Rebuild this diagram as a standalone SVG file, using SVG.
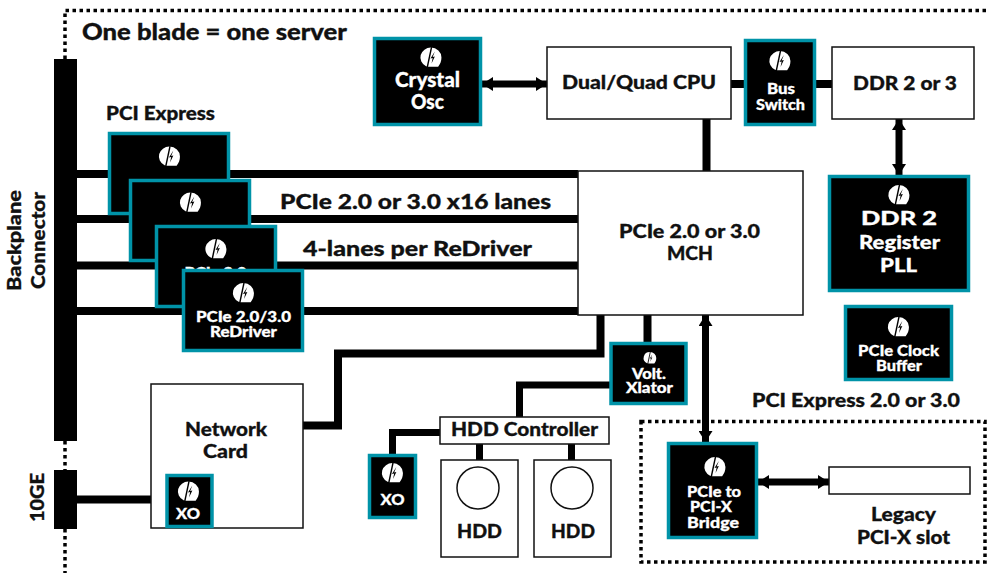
<svg xmlns="http://www.w3.org/2000/svg" width="987" height="573" viewBox="0 0 987 573">
<style>
text{font-family:"Lato","Liberation Sans",sans-serif;font-weight:900;text-anchor:middle;fill:#111;stroke:#111;stroke-width:.3}
text.w{fill:#fff;stroke:#fff}
.chip{fill:#000;stroke:#0093a8;stroke-width:3.5}
.box{fill:#fff;stroke:#111;stroke-width:1.5}
.dot{fill:none;stroke:#000;stroke-width:3.5;stroke-dasharray:3.5 3.5}
.c{fill:none;stroke:#000}
.a{fill:none;stroke:#000;stroke-width:7;marker-start:url(#ah);marker-end:url(#ah)}
.bar{fill:#000}
</style>
<defs>
<marker id="ah" markerUnits="userSpaceOnUse" markerWidth="12" markerHeight="14" refX="11" refY="7" orient="auto-start-reverse"><path d="M0 0L11 7L0 14Z" fill="#000"/></marker>
<g id="logo"><g transform="scale(1.1)"><path d="M0-9A9.500 9 0 0 1 9.500 0C9.500 3.500 8.500 5.500 6.500 8.500L-3 8.500L-4.500 8A9.500 9 0 0 1 0-9Z" fill="#fff"/><path d="M-3.500 9.500L.5-9.500" stroke="#000" stroke-width="1.300"/><path d="M3.500-5.500L-.5 1L1.500.5L.5 5.500L3.500-1L1.500-.5Z" fill="#000"/></g></g>
</defs>
<rect width="987" height="573" fill="#fff"/>
<g id="frames">
<path class="dot" d="M65 59V10.500H987M65 441V470M65 529V573"/>
<rect class="dot" x="641" y="421.500" width="344" height="140.500"/>
</g>
<g id="connectors">
<path class="c" stroke-width="8" d="M77 174H578M77 219H578M77 265.500H578M77 311H578"/>
<path class="c" stroke-width="8" d="M706.500 119V171M731 84H744M816 84H832M647.500 315V342M600.500 315V353.500H338V425.500H303M77 499.500H151"/>
<path class="c" stroke-width="7" d="M610 385H519.500V417M479.500 444V460M571.500 444V460M392.500 454V432.500H440"/>
<path class="a" d="M482 84H547"/>
<path class="a" d="M899 119V175"/>
<path class="a" d="M705.500 315V442"/>
<path class="a" d="M758 482H829"/>
</g>
<g id="backplane"><rect class="bar" x="54" y="59" width="23" height="382"/><text transform="translate(21 240.500) rotate(-90)" font-size="19" textLength="101" lengthAdjust="spacingAndGlyphs">Backplane</text><text transform="translate(44.500 240.500) rotate(-90)" font-size="19" textLength="97" lengthAdjust="spacingAndGlyphs">Connector</text></g>
<g id="tenge"><rect class="bar" x="54" y="470" width="23" height="59"/><text transform="translate(43.500 497.500) rotate(-90)" font-size="19" textLength="49" lengthAdjust="spacingAndGlyphs">10GE</text></g>
<g id="title"><text x="214.500" y="39.500" font-size="22" textLength="265" lengthAdjust="spacingAndGlyphs">One blade = one server</text></g>
<g id="labels">
<text x="160.500" y="120" font-size="18" textLength="109" lengthAdjust="spacingAndGlyphs">PCI Express</text>
<text x="415.500" y="209" font-size="21" textLength="271" lengthAdjust="spacingAndGlyphs">PCIe 2.0 or 3.0 x16 lanes</text>
<text x="417.500" y="256" font-size="21" textLength="229" lengthAdjust="spacingAndGlyphs">4-lanes per ReDriver</text>
<text x="856" y="407" font-size="18.500" textLength="208" lengthAdjust="spacingAndGlyphs">PCI Express 2.0 or 3.0</text>
</g>
<g id="redriver1"><rect class="chip" x="109.500" y="133.500" width="119" height="80"/><use href="#logo" x="169.500" y="156.500"/></g>
<g id="redriver2"><rect class="chip" x="130.500" y="180.500" width="119" height="80"/><use href="#logo" x="190.500" y="202.500"/></g>
<g id="redriver3"><rect class="chip" x="156.500" y="226.500" width="119" height="80"/><use href="#logo" x="216" y="249"/><text class="w" x="215.500" y="278" font-size="15.500" textLength="62" lengthAdjust="spacingAndGlyphs">PCIe 2.0</text></g>
<g id="redriver4"><rect class="chip" x="183.500" y="270.500" width="119" height="80"/><use href="#logo" x="243.500" y="293"/><text class="w" x="243.500" y="322" font-size="14.500" textLength="95" lengthAdjust="spacingAndGlyphs">PCIe 2.0/3.0</text><text class="w" x="243.500" y="337" font-size="14.500" textLength="67" lengthAdjust="spacingAndGlyphs">ReDriver</text></g>
<g id="crystal"><rect class="chip" x="374.500" y="38.500" width="106" height="86"/><use href="#logo" x="431" y="57.500"/><text class="w" x="427.500" y="87" font-size="20" textLength="65" lengthAdjust="spacingAndGlyphs">Crystal</text><text class="w" x="427.500" y="109" font-size="20" textLength="33" lengthAdjust="spacingAndGlyphs">Osc</text></g>
<g id="cpu"><rect class="box" x="547" y="47" width="184" height="72"/><text x="639" y="89" font-size="19" textLength="154" lengthAdjust="spacingAndGlyphs">Dual/Quad CPU</text></g>
<g id="busswitch"><rect class="chip" x="745.500" y="40.500" width="69" height="84"/><use href="#logo" x="780" y="61"/><text class="w" x="781" y="94" font-size="15" textLength="28" lengthAdjust="spacingAndGlyphs">Bus</text><text class="w" x="780.500" y="110" font-size="15" textLength="49" lengthAdjust="spacingAndGlyphs">Switch</text></g>
<g id="ddr"><rect class="box" x="832" y="47" width="142" height="72"/><text x="905" y="90" font-size="19" textLength="104" lengthAdjust="spacingAndGlyphs">DDR 2 or 3</text></g>
<g id="mch"><rect class="box" x="578" y="171" width="225" height="144"/><text x="689.500" y="238" font-size="18.500" textLength="141" lengthAdjust="spacingAndGlyphs">PCIe 2.0 or 3.0</text><text x="690" y="260" font-size="18.500" textLength="46" lengthAdjust="spacingAndGlyphs">MCH</text></g>
<g id="register"><rect class="chip" x="829.500" y="176.500" width="139" height="114"/><use href="#logo" x="899" y="195"/><text class="w" x="899" y="225" font-size="19" textLength="76" lengthAdjust="spacingAndGlyphs">DDR 2</text><text class="w" x="899.500" y="248.500" font-size="19" textLength="81" lengthAdjust="spacingAndGlyphs">Register</text><text class="w" x="898.500" y="272" font-size="19" textLength="37" lengthAdjust="spacingAndGlyphs">PLL</text></g>
<g id="clockbuffer"><rect class="chip" x="845.500" y="306.500" width="106" height="73"/><use href="#logo" x="898.500" y="327"/><text class="w" x="898.500" y="356" font-size="15" textLength="81" lengthAdjust="spacingAndGlyphs">PCIe Clock</text><text class="w" x="899" y="371" font-size="15" textLength="46" lengthAdjust="spacingAndGlyphs">Buffer</text></g>
<g id="xlator"><rect class="chip" x="611" y="343.500" width="75" height="60"/><use href="#logo" transform="translate(650 358) scale(.6)"/><text class="w" x="649" y="379" font-size="14.500" textLength="34" lengthAdjust="spacingAndGlyphs">Volt.</text><text class="w" x="649.500" y="393" font-size="14.500" textLength="47" lengthAdjust="spacingAndGlyphs">Xlator</text></g>
<g id="network"><rect class="box" x="151" y="384" width="152" height="144"/><text x="226" y="436" font-size="19" textLength="82" lengthAdjust="spacingAndGlyphs">Network</text><text x="225.500" y="458" font-size="19" textLength="45" lengthAdjust="spacingAndGlyphs">Card</text></g>
<g id="xo1"><rect class="chip" x="167" y="475.500" width="45" height="51"/><use href="#logo" x="188.500" y="491.500"/><text class="w" x="188" y="519" font-size="15.500" textLength="24" lengthAdjust="spacingAndGlyphs">XO</text></g>
<g id="xo2"><rect class="chip" x="369.500" y="455.500" width="46" height="62"/><use href="#logo" x="392.500" y="473"/><text class="w" x="392.500" y="505" font-size="15.500" textLength="24" lengthAdjust="spacingAndGlyphs">XO</text></g>
<g id="hddctl"><rect class="box" x="440" y="417" width="169" height="27"/><text x="524.500" y="436" font-size="19" textLength="147" lengthAdjust="spacingAndGlyphs">HDD Controller</text></g>
<g id="hdd1"><rect class="box" x="441" y="460" width="77" height="97"/><circle class="box" cx="478" cy="488" r="21"/><text x="479.500" y="538" font-size="19" textLength="45" lengthAdjust="spacingAndGlyphs">HDD</text></g>
<g id="hdd2"><rect class="box" x="534" y="460" width="77" height="97"/><circle class="box" cx="572" cy="488" r="21"/><text x="573" y="538" font-size="19" textLength="44" lengthAdjust="spacingAndGlyphs">HDD</text></g>
<g id="bridge"><rect class="chip" x="668.500" y="443.500" width="88" height="94"/><use href="#logo" x="715" y="467"/><text class="w" x="714" y="497" font-size="14.500" textLength="54" lengthAdjust="spacingAndGlyphs">PCIe to</text><text class="w" x="711" y="512" font-size="14.500" textLength="42" lengthAdjust="spacingAndGlyphs">PCI-X</text><text class="w" x="713" y="528" font-size="14.500" textLength="52" lengthAdjust="spacingAndGlyphs">Bridge</text></g>
<g id="slot"><rect class="box" x="829" y="467" width="141" height="27"/><text x="903.500" y="521" font-size="18.500" textLength="65" lengthAdjust="spacingAndGlyphs">Legacy</text><text x="903.500" y="544" font-size="18.500" textLength="93" lengthAdjust="spacingAndGlyphs">PCI-X slot</text></g>
</svg>
